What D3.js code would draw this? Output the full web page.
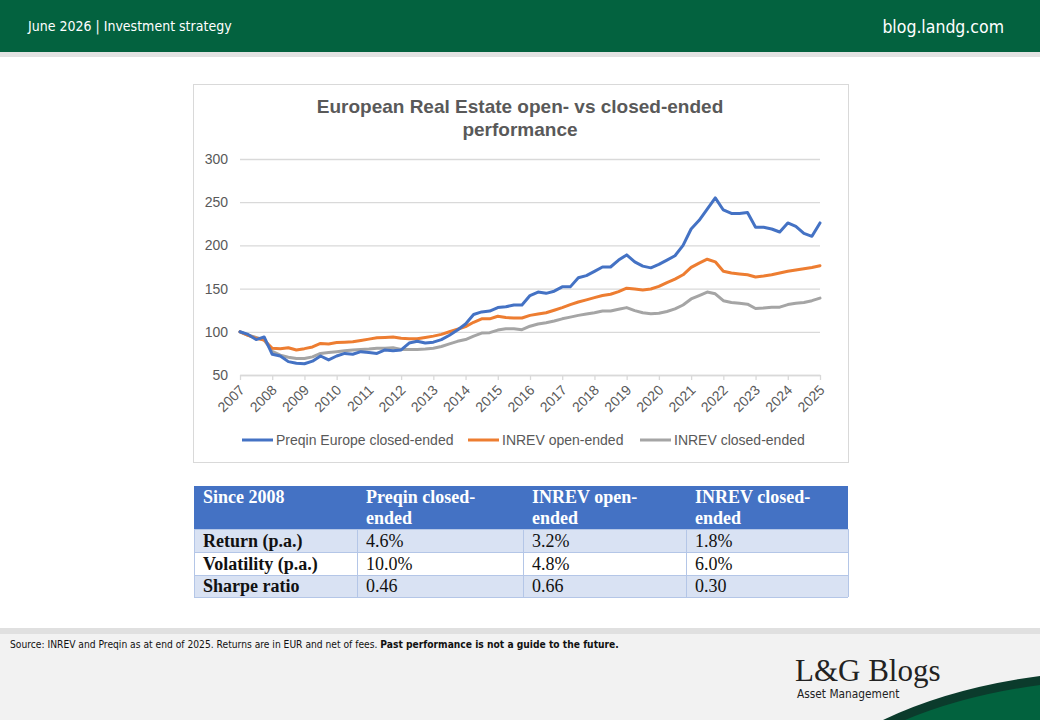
<!DOCTYPE html>
<html>
<head>
<meta charset="utf-8">
<script src="https://cdn.jsdelivr.net/npm/d3@7"></script>
<style>
  html, body { margin: 0; padding: 0; background: #fff; }
  svg { display: block; }
</style>
</head>
<body>
<div id="page"></div>
<script>
(function () {
  "use strict";

  // --- data (quarterly index, 2007 = 100) ---
  var preqinClosed = [
    100, 97, 91, 94, 74, 72, 65.5, 63.5, 63, 66, 72, 67.5, 72, 75, 74, 77, 76, 75, 79, 78,
    79, 87, 89, 87, 88, 91, 96, 102, 109, 120, 123, 124, 128, 129, 131, 131, 142, 146, 144.5, 147,
    152, 152, 162.5, 165, 170, 175, 175, 183, 189, 181, 176, 174, 178, 183, 188, 200, 219, 229, 242, 255,
    241, 237, 237, 238, 221, 221, 219, 215.5, 226, 222, 214, 210.5, 226
  ];
  var inrevOpen = [
    100, 96, 92.5, 90.5, 81, 80.5, 81.5, 79, 80.5, 82.5, 86.5, 86, 87.5, 88, 88.5, 90, 91.5, 93, 93.5, 94,
    92.5, 92, 92, 93.5, 95, 97, 100, 103, 106, 111, 115, 115, 118, 116.5, 116, 116, 119, 120.5, 122, 125,
    128, 131.5, 134.5, 137, 139.5, 142, 143.5, 146.5, 150.5, 149.5, 148.5, 149.5, 152.5, 157, 161, 166, 174.5, 179.5, 184, 181,
    170, 168, 167, 166, 163.5, 164.5, 166, 168, 170, 171.5, 173, 174.5, 176.5
  ];
  var inrevClosed = [
    100, 96, 93.5, 90.5, 77.5, 73, 70.5, 69, 69, 71, 75, 76, 77, 78, 79, 79.5, 80, 81, 81, 81.5,
    79.5, 79.5, 79.5, 80, 81, 83, 86, 89, 91, 95, 98.5, 99, 102, 103.5, 103.5, 102.5, 106.5, 109, 110.5, 112.5,
    115, 117, 119, 120.5, 122, 124, 124, 126, 128, 124.5, 122, 121, 121.5, 123.5, 126.5, 131, 138, 142, 146, 144,
    136, 134, 133, 132, 127, 127.5, 128.5, 128.5, 131.5, 133, 134, 136, 139
  ];
  var seriesNames = ["Preqin Europe closed-ended", "INREV open-ended", "INREV closed-ended"];
  var seriesColors = ["#4472c4", "#ed7d31", "#a5a5a5"];
  var yearTicks = [2007, 2008, 2009, 2010, 2011, 2012, 2013, 2014, 2015, 2016,
                   2017, 2018, 2019, 2020, 2021, 2022, 2023, 2024, 2025];
  var yTicks = [50, 100, 150, 200, 250, 300];

  // --- table data ---
  var tableHead = [["Since 2008"], ["Preqin closed-", "ended"], ["INREV open-", "ended"], ["INREV closed-", "ended"]];
  var rowLabels = ["Return (p.a.)", "Volatility (p.a.)", "Sharpe ratio"];
  var tableRows = [
    ["4.6%", "3.2%", "1.8%"],
    ["10.0%", "4.8%", "6.0%"],
    ["0.46", "0.66", "0.30"]
  ];

  var W = 1040, H = 720;
  var GREEN = "#03623f", INK = "#595959";
  var SANS = "'Liberation Sans', Arial, sans-serif";
  var NARROW = "'Liberation Sans Narrow', 'DejaVu Sans Condensed', sans-serif";
  var SERIF = "'Liberation Serif', 'DejaVu Serif', serif";

  var svg = d3.select("#page").append("svg")
    .attr("width", W).attr("height", H).attr("viewBox", "0 0 " + W + " " + H);

  // --- page frame ---
  svg.append("rect").attr("width", W).attr("height", H).attr("fill", "#fff");
  svg.append("rect").attr("width", W).attr("height", 52).attr("fill", GREEN);
  svg.append("rect").attr("y", 52).attr("width", W).attr("height", 5).attr("fill", "#e2e2e2");
  svg.append("text").attr("x", 28).attr("y", 31)
    .attr("font-family", NARROW).attr("font-size", 14).attr("fill", "#fff")
    .text("June 2026 | Investment strategy");
  svg.append("text").attr("x", 1004).attr("y", 33).attr("text-anchor", "end")
    .attr("font-family", NARROW).attr("font-size", 17.5).attr("fill", "#fff")
    .text("blog.landg.com");

  // footer
  svg.append("rect").attr("y", 628).attr("width", W).attr("height", 92).attr("fill", "#f2f2f2");
  svg.append("rect").attr("y", 628).attr("width", W).attr("height", 6).attr("fill", "#e0e0e0");
  var src = svg.append("text").attr("x", 10).attr("y", 648)
    .attr("font-family", NARROW).attr("font-size", 10.2).attr("fill", "#111");
  src.append("tspan").text("Source: INREV and Preqin as at end of 2025. Returns are in EUR and net of fees. ");
  src.append("tspan").attr("font-weight", "bold").text("Past performance is not a guide to the future.");

  // logo + swoosh
  svg.append("text").attr("x", 795).attr("y", 681)
    .attr("font-family", SERIF).attr("font-size", 31).attr("fill", "#222")
    .text("L&G Blogs");
  svg.append("text").attr("x", 797).attr("y", 698)
    .attr("font-family", NARROW).attr("font-size", 11.8).attr("fill", "#222")
    .text("Asset Management");
  svg.append("path").attr("fill", "#0b3b2c")
    .attr("d", "M883,720 Q950,688 1040,676 L1040,720 Z");
  svg.append("path").attr("fill", "#02623e")
    .attr("d", "M905,720 Q965,695 1040,685 L1040,720 Z");

  // --- chart box ---
  svg.append("rect").attr("x", 193.5).attr("y", 84.5).attr("width", 655).attr("height", 378)
    .attr("fill", "#fff").attr("stroke", "#d9d9d9");

  var title = svg.append("text").attr("text-anchor", "middle")
    .attr("font-family", SANS).attr("font-size", 19).attr("font-weight", "bold").attr("fill", INK);
  title.append("tspan").attr("x", 520).attr("y", 113).text("European Real Estate open- vs closed-ended");
  title.append("tspan").attr("x", 520).attr("y", 136).text("performance");

  var x = d3.scaleLinear().domain([2007, 2025]).range([240, 820]);
  var y = d3.scaleLinear().domain([50, 300]).range([375, 159]);
  var g = svg.append("g");

  // gridlines + y labels
  g.append("g").call(d3.axisLeft(y).tickValues(yTicks).tickSize(-(x.range()[1] - x.range()[0])).tickPadding(12))
    .attr("transform", "translate(" + x.range()[0] + ",0)")
    .call(function (a) {
      a.select(".domain").remove();
      a.selectAll(".tick line").attr("stroke", "#d9d9d9").attr("stroke-width", 1.3);
      a.selectAll(".tick text").attr("fill", INK).attr("font-family", SANS).attr("font-size", 14);
    });

  // x axis
  g.append("g").attr("transform", "translate(0," + y(50) + ")")
    .call(d3.axisBottom(x).tickValues(yearTicks).tickFormat(d3.format("d")).tickSize(5).tickSizeOuter(0))
    .call(function (a) {
      a.select(".domain").attr("stroke", "#d9d9d9").attr("stroke-width", 1.3);
      a.selectAll(".tick line").attr("stroke", "#d9d9d9").attr("stroke-width", 1.3);
      a.selectAll(".tick text")
        .attr("fill", INK).attr("font-family", SANS).attr("font-size", 14)
        .attr("text-anchor", "end").attr("dy", null).attr("y", null)
        .attr("transform", "translate(5,16) rotate(-45)");
    });

  // lines
  var all = [preqinClosed, inrevOpen, inrevClosed];
  var line = d3.line()
    .x(function (d, i) { return x(2007 + i / 4); })
    .y(function (d) { return y(d); });
  [2, 1, 0].forEach(function (k) {
    g.append("path").datum(all[k])
      .attr("fill", "none").attr("stroke", seriesColors[k]).attr("stroke-width", 3)
      .attr("stroke-linejoin", "round").attr("stroke-linecap", "round")
      .attr("d", line);
  });

  // legend
  var legX = [242, 468, 640];
  var leg = svg.append("g").selectAll("g").data(seriesNames).join("g")
    .attr("transform", function (d, i) { return "translate(" + legX[i] + ",440)"; });
  leg.append("line").attr("x1", 0).attr("x2", 31).attr("y1", 0).attr("y2", 0)
    .attr("stroke", function (d, i) { return seriesColors[i]; }).attr("stroke-width", 3);
  leg.append("text").attr("x", 34).attr("y", 5)
    .attr("font-family", SANS).attr("font-size", 14).attr("fill", INK)
    .text(function (d) { return d; });

  // --- table ---
  var colX = [194, 357, 523, 686, 848];
  var rowY = [486, 529, 552, 575, 597];
  var tb = svg.append("g");
  tb.append("rect").attr("x", colX[0]).attr("y", rowY[0])
    .attr("width", colX[4] - colX[0]).attr("height", rowY[1] - rowY[0]).attr("fill", "#4472c4");
  rowLabels.forEach(function (lab, r) {
    tb.append("rect").attr("x", colX[0]).attr("y", rowY[r + 1])
      .attr("width", colX[4] - colX[0]).attr("height", rowY[r + 2] - rowY[r + 1])
      .attr("fill", r % 2 === 0 ? "#d9e2f3" : "#fff");
  });
  // grid lines
  rowY.slice(1).forEach(function (yy) {
    tb.append("line").attr("x1", colX[0]).attr("x2", colX[4]).attr("y1", yy + 0.5).attr("y2", yy + 0.5)
      .attr("stroke", "#b4c6e7");
  });
  colX.forEach(function (xx) {
    tb.append("line").attr("x1", xx + 0.5).attr("x2", xx + 0.5).attr("y1", rowY[1]).attr("y2", rowY[4])
      .attr("stroke", "#b4c6e7");
  });
  tb.append("line").attr("x1", colX[0] + 0.5).attr("x2", colX[0] + 0.5).attr("y1", rowY[0]).attr("y2", rowY[1])
    .attr("stroke", "#4472c4");

  tableHead.forEach(function (lines, c) {
    var t = tb.append("text").attr("font-family", SERIF).attr("font-size", 18)
      .attr("font-weight", "bold").attr("fill", "#fff");
    lines.forEach(function (s, j) {
      t.append("tspan").attr("x", colX[c] + 9).attr("y", rowY[0] + 17 + j * 21).text(s);
    });
  });
  rowLabels.forEach(function (lab, r) {
    var cy = (rowY[r + 1] + rowY[r + 2]) / 2 + 6;
    tb.append("text").attr("x", colX[0] + 9).attr("y", cy)
      .attr("font-family", SERIF).attr("font-size", 18).attr("font-weight", "bold").attr("fill", "#111")
      .text(lab);
    tableRows[r].forEach(function (v, c) {
      tb.append("text").attr("x", colX[c + 1] + 9).attr("y", cy)
        .attr("font-family", SERIF).attr("font-size", 18).attr("fill", "#111")
        .text(v);
    });
  });
})();
</script>
</body>
</html>
